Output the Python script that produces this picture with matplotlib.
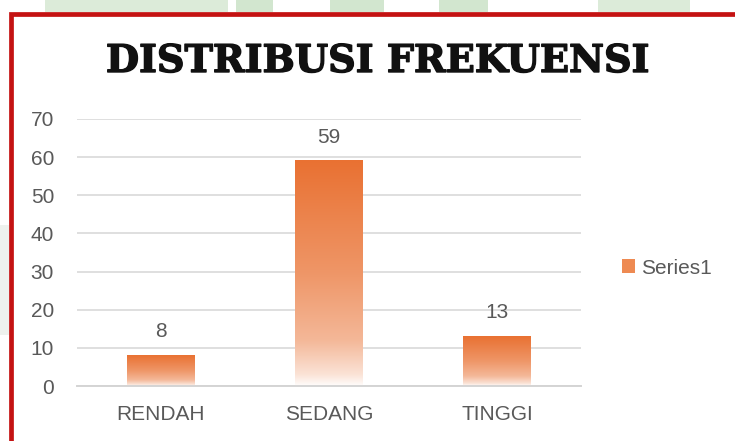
import numpy as np
import matplotlib
matplotlib.use("Agg")
import matplotlib.pyplot as plt
import matplotlib.patheffects as pe
from matplotlib.patches import Rectangle, Patch

categories = ["RENDAH", "SEDANG", "TINGGI"]
values = [8, 59, 13]
series_name = "Series1"
title = "DISTRIBUSI FREKUENSI"
yticks = [0, 10, 20, 30, 40, 50, 60, 70]

orange = np.array([233, 113, 50]) / 255.0
grey_text = "#595959"

plt.rcParams['font.family'] = ['Liberation Sans', 'DejaVu Sans']

fig = plt.figure(figsize=(7.35, 4.41), dpi=100)
W, H = 735.0, 441.0

# faint green watermark behind the frame (top strip and left edge)
for x0, x1, c in [(45, 228, "#dcebd9"), (236, 273, "#d2e6cf"), (330, 384, "#d2e6cf"),
                  (439, 488, "#d2e6cf"), (598, 690, "#dcebd9")]:
    fig.patches.append(Rectangle((x0 / W, 1 - 12 / H), (x1 - x0) / W, 12 / H,
                                 transform=fig.transFigure, color=c, lw=0, zorder=0))
fig.patches.append(Rectangle((0, 1 - 335 / H), 9 / W, 110 / H,
                             transform=fig.transFigure, color="#eef2ee", lw=0, zorder=0))

# red frame
fig.patches.append(Rectangle((11 / W, -0.05), 1.0, 1 - 14 / H + 0.05,
                             transform=fig.transFigure, fill=False,
                             edgecolor="#c41212", lw=3.4, zorder=1))

ax = fig.add_axes([77 / W, 1 - 386 / H, 504 / W, 267 / H])
ax.set_facecolor("none")
x = np.arange(len(categories))
width = 0.40

# gradient fill: solid orange at the top fading to white at the base
t_ctrl = [0.0, 0.05, 0.2, 0.5, 1.0]
w_ctrl = [0.02, 0.2, 0.5, 0.74, 1.0]
t = np.linspace(0, 1, 256)
w = np.interp(t, t_ctrl, w_ctrl)
grad = np.ones((256, 1, 3)) * (1 - w)[:, None, None] + orange[None, None, :] * w[:, None, None]

for xi, v in zip(x, values):
    ax.imshow(grad, extent=[xi - width / 2, xi + width / 2, 0, v], origin="lower",
              aspect="auto", zorder=2, interpolation="bilinear")
    ax.annotate(str(v), (xi, v), xytext=(0, 13), textcoords="offset points",
                ha="center", va="baseline", fontsize=15, color=grey_text)

ax.set_xlim(-0.5, len(categories) - 0.5)
ax.set_ylim(0, 70)
ax.set_yticks(yticks)
ax.set_xticks(x)
ax.set_xticklabels(categories)
ax.grid(axis="y", color="#d9d9d9", lw=1.2, zorder=0)
ax.set_axisbelow(True)
for s in ["top", "right", "left"]:
    ax.spines[s].set_visible(False)
ax.spines["bottom"].set_color("#d4d4d4")
ax.spines["bottom"].set_linewidth(1.4)
ax.tick_params(axis="both", length=0, labelsize=15, labelcolor=grey_text)
ax.tick_params(axis="y", pad=16.5)
ax.tick_params(axis="x", pad=13.5)

fig.text(378 / W, 1 - 72 / H, title, ha="center", va="baseline",
         fontsize=27.5, fontweight="bold", family="DejaVu Serif", color="#111111",
         path_effects=[pe.withStroke(linewidth=1.0, foreground="#111111")])

handle = Patch(facecolor="#ee8a52", edgecolor="none")
fig.legend([handle], [series_name], loc="center left",
           bbox_to_anchor=(603 / W, 1 - 268 / H), frameon=False,
           handlelength=0.63, handleheight=0.63, handletextpad=0.3,
           prop={"size": 15}, labelcolor=grey_text)

fig.savefig("out.png", dpi=100)
